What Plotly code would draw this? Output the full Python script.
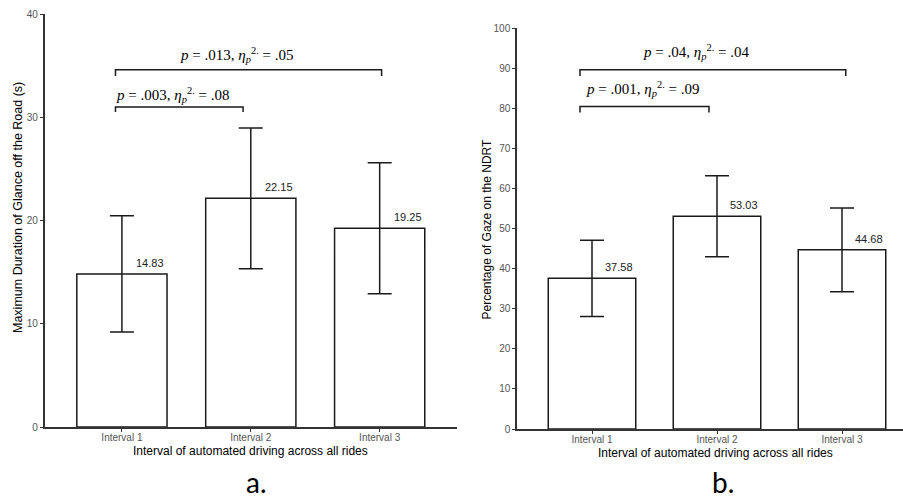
import plotly.graph_objects as go

# ---- data ----
intervals = ["Interval 1", "Interval 2", "Interval 3"]
positions = [1, 2, 3]

glance_mean = [14.83, 22.15, 19.25]
glance_err = [5.63, 6.82, 6.35]

gaze_mean = [37.58, 53.03, 44.68]
gaze_err = [9.5, 10.1, 10.45]

# pairwise comparison brackets (start, end, height, drop, label)
glance_br_x0 = [0.95, 0.95]
glance_br_x1 = [1.94, 3.015]
glance_br_y = [31.0, 34.6]
glance_br_drop = [0.5, 0.6]
glance_br_text = ["<i>p</i> = .003, <i>η</i><sub><i>p</i></sub><sup>2.</sup> = .08",
                  "<i>p</i> = .013, <i>η</i><sub><i>p</i></sub><sup>2.</sup> = .05"]
glance_txt_x = [1.395, 1.891]
glance_txt_y = [32.2, 36.05]

gaze_br_x0 = [0.904, 0.904]
gaze_br_x1 = [1.936, 3.03]
gaze_br_y = [80.4, 89.6]
gaze_br_drop = [1.5, 1.6]
gaze_br_text = ["<i>p</i> = .001, <i>η</i><sub><i>p</i></sub><sup>2.</sup> = .09",
                "<i>p</i> = .04, <i>η</i><sub><i>p</i></sub><sup>2.</sup> = .04"]
gaze_txt_x = [1.408, 1.838]
gaze_txt_y = [84.7, 94.1]

LINE = "#1a1a1a"
AXIS = "#333333"
TICKF = dict(family="Liberation Sans, Arial", size=10, color="#555555")

fig = go.Figure()

def add_panel(xa, ya, means, errs, bx0, bx1, by, bdrop, btext, tx, ty):
    fig.add_trace(go.Bar(
        x=positions, y=means, width=0.7,
        marker=dict(color="white", line=dict(color=LINE, width=1.5)),
        error_y=dict(type="data", array=errs, visible=True, color=LINE, thickness=1.5, width=12),
        xaxis=xa, yaxis=ya, showlegend=False, hoverinfo="skip"))
    for x0, x1, y, d in zip(bx0, bx1, by, bdrop):
        fig.add_trace(go.Scatter(
            x=[x0, x0, x1, x1], y=[y - d, y, y, y - d], mode="lines",
            line=dict(color=LINE, width=1.5), xaxis=xa, yaxis=ya,
            showlegend=False, hoverinfo="skip"))
    for p, m in zip(positions, means):
        fig.add_annotation(x=p + 0.217, y=m, xref=xa, yref=ya, text=f"{m:.2f}",
                           showarrow=False, yshift=11, xanchor="center", yanchor="middle",
                           font=dict(family="Liberation Sans, Arial", size=11, color="#222222"))
    for t, x, y in zip(btext, tx, ty):
        fig.add_annotation(x=x, y=y, xref=xa, yref=ya, text=t, showarrow=False,
                           xanchor="center", yanchor="middle",
                           font=dict(family="Liberation Serif, Times New Roman", size=15, color="black"))

add_panel("x", "y", glance_mean, glance_err, glance_br_x0, glance_br_x1,
          glance_br_y, glance_br_drop, glance_br_text, glance_txt_x, glance_txt_y)
add_panel("x2", "y2", gaze_mean, gaze_err, gaze_br_x0, gaze_br_x1,
          gaze_br_y, gaze_br_drop, gaze_br_text, gaze_txt_x, gaze_txt_y)

axis_common = dict(showline=True, linecolor=AXIS, linewidth=1.5, ticks="outside",
                   ticklen=3, tickwidth=1, tickcolor=AXIS, showgrid=False,
                   zeroline=False, tickfont=TICKF)

fig.update_layout(
    width=903, height=500,
    margin=dict(l=0, r=0, t=0, b=0, autoexpand=False),
    paper_bgcolor="white", plot_bgcolor="white",
    showlegend=False,
    xaxis=dict(domain=[44.6 / 903, 457 / 903], range=[0.4, 3.6], ticklabelstandoff=-3,
               tickvals=positions, ticktext=intervals, anchor="y", **axis_common),
    yaxis=dict(domain=[1 - 427 / 500, 1 - 14 / 500], range=[0, 40], dtick=10,
               anchor="x", **axis_common),
    xaxis2=dict(domain=[517 / 903, 1.0], range=[0.4, 3.488], ticklabelstandoff=-3,
                tickvals=positions, ticktext=intervals, anchor="y2", **axis_common),
    yaxis2=dict(domain=[1 - 429 / 500, 1 - 28 / 500], range=[0, 100], dtick=10,
                anchor="x2", **axis_common),
)

TITLEF = dict(family="Liberation Sans, Arial", size=12, color="black")
def paper_text(x, y, text, font, angle=0):
    fig.add_annotation(x=x / 903, y=1 - y / 500, xref="paper", yref="paper", showarrow=False,
                       text=text, font=font, textangle=angle,
                       xanchor="center", yanchor="middle")

paper_text(250, 451, "Interval of automated driving across all rides", TITLEF)
paper_text(715.7, 452.7, "Interval of automated driving across all rides", TITLEF)
paper_text(18, 208, "Maximum Duration of Glance off the Road (s)",
           dict(family="Liberation Sans, Arial", size=12.5, color="black"), -90)
paper_text(486, 229.5, "Percentage of Gaze on the NDRT", TITLEF, -90)
paper_text(256, 482, "a.", dict(family="Lato, Open Sans", size=28, color="black"))
paper_text(723, 482, "b.", dict(family="Lato, Open Sans", size=28, color="black"))

fig.write_html("out.html", config={"displayModeBar": False},
               post_script="document.body.style.margin='0';")
